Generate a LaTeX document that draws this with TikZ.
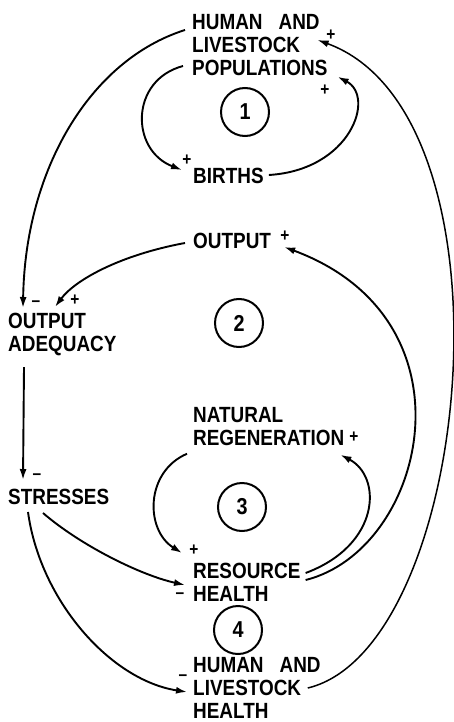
\documentclass[tikz,border=0pt]{standalone}
\usepackage{fontspec}
\newfontfamily\diagfont{Liberation Sans}[FakeStretch=0.86]
\usetikzlibrary{arrows.meta, calc}

\begin{document}
\begin{tikzpicture}[
    x=1pt, y=-1pt,
    harrow/.style={-{Latex[length=11pt, width=7pt]}, line width=1.9pt},
    varbox/.style={
        inner sep=0pt,
        align=left,
        font=\diagfont\bfseries\fontsize{22}{23}\selectfont
    },
    loopmark/.style={
        circle,
        draw,
        line width=2pt,
        minimum size=48pt,
        inner sep=0pt,
        font=\diagfont\bfseries\fontsize{23}{23}\selectfont
    },
    polarity/.style={
        inner sep=0pt,
        font=\diagfont\bfseries\fontsize{18}{18}\selectfont
    }
]

\useasboundingbox (0,0) rectangle (453,722);

% === VARIABLES ===
\node (pop) [varbox, anchor=north west] at (192,14) {HUMAN\hspace{16pt}AND\\LIVESTOCK\\POPULATIONS};
\node (births) [varbox, anchor=west] at (193,176) {BIRTHS};
\node (output) [varbox, anchor=west] at (193,241) {OUTPUT};
\node (adequacy) [varbox, anchor=north west] at (8,313) {OUTPUT\\ADEQUACY};
\node (natreg) [varbox, anchor=north west] at (193,407) {NATURAL\\REGENERATION};
\node (stresses) [varbox, anchor=west] at (8,497) {STRESSES};
\node (resource) [varbox, anchor=north west] at (193,563) {RESOURCE\\HEALTH};
\node (hhealth) [varbox, anchor=north west] at (193,657) {HUMAN\hspace{16pt}AND\\LIVESTOCK\\HEALTH};

% === LOOP MARKERS ===
\node (loop1) [loopmark] at (245,112) {1};
\node (loop2) [loopmark] at (239,323) {2};
\node (loop3) [loopmark] at (242,507) {3};
\node (loop4) [loopmark] at (238,630) {4};

% === LOOP 1 ===
\draw [harrow] ($(pop.north west)+(-9,52)$) .. controls +(-53,14) and +(-52,-20) .. ($(births.west)+(-11,-6)$);
\draw [harrow] ($(births.east)+(5,-1)$) .. controls +(82,-5) and +(38,20) .. ($(pop.south east)+(10,1)$);

% === LOOP 2 ===
\draw [harrow] ($(pop.north west)+(-7,16)$) .. controls +(-95,30) and +(2,-138) .. ($(adequacy.north west)+(15,-5)$);
\draw [harrow] ($(output.west)+(-8,2)$) .. controls +(-65,12) and +(20,-27) .. ($(adequacy.north west)+(47,-6)$);
\draw [harrow] ($(resource.north east)+(5,17)$) .. controls +(120,-30) and +(197,73) .. ($(output.east)+(13,6)$);
\draw [harrow] ($(adequacy.south west)+(16,11)$) -- ($(stresses.north west)+(15,-9)$);

% === LOOP 3 ===
\draw [harrow] ($(natreg.south west)+(-6,8)$) .. controls +(-42,18) and +(-37,-23) .. ($(resource.north west)+(-11,-10)$);
\draw [harrow] ($(resource.north east)+(5,10)$) .. controls +(75,-28) and +(42,22) .. ($(natreg.south east)+(-4,9)$);
\draw [harrow] ($(stresses.south west)+(35,8)$) .. controls +(37,32) and +(-45,-10) .. ($(resource.north west)+(-8,22)$);

% === LOOP 4 ===
\draw [harrow] ($(stresses.south west)+(20,7)$) .. controls +(12,88) and +(-77,-12) .. ($(hhealth.north west)+(-6,35)$);
\draw [harrow, line width=1.5pt] ($(hhealth.north east)+(-13,31)$) .. controls +(165,-40) and +(205,75) .. ($(pop.north east)+(-10,26)$);

% === POLARITIES ===
\node (s1) [polarity] at (187,160) {+};
\node (s2) [polarity] at (325,90) {+};
\node (s3) [polarity] at (331,35) {+};
\node (s4) [polarity] at (285,236) {+};
\node (s5) [polarity] at (36,304) {\textendash};
\node (s6) [polarity] at (75,300) {+};
\node (s7) [polarity] at (37,477) {\textendash};
\node (s8) [polarity] at (354,437) {+};
\node (s9) [polarity] at (194,550) {+};
\node (s10) [polarity] at (180,596) {\textendash};
\node (s11) [polarity] at (183,678) {\textendash};

\end{tikzpicture}
\end{document}
